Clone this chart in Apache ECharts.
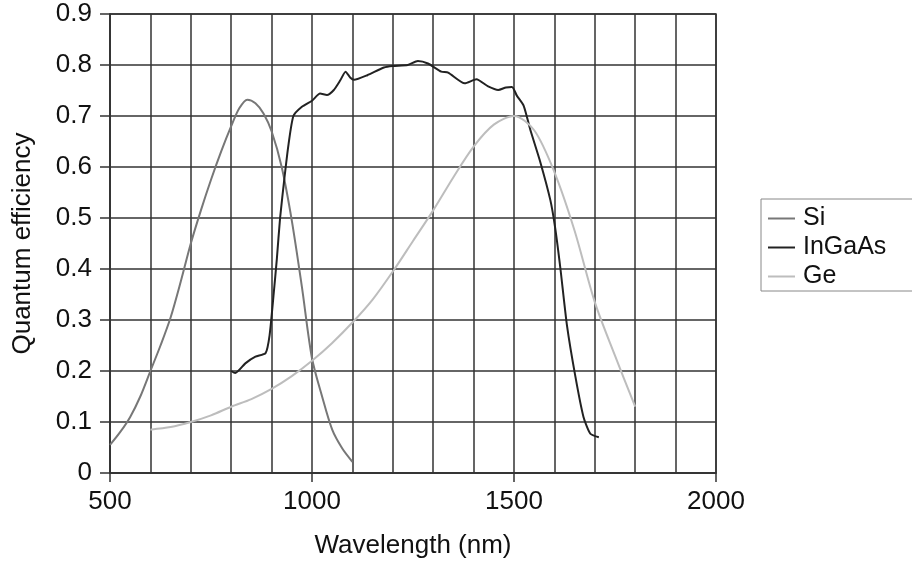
<!DOCTYPE html>
<html>
<head>
<meta charset="utf-8">
<script src="https://cdn.jsdelivr.net/npm/echarts@6/dist/echarts.min.js"></script>
<style>
  html, body { margin: 0; padding: 0; background: #fff; }
  #main { width: 912px; height: 566px; }
</style>
</head>
<body>
<div id="main"></div>
<script>
// wavelengths (nm) and quantum efficiency
const siWl = [500, 525, 550, 575, 600, 625, 650, 675, 700, 725, 750, 775, 800, 820, 840, 860, 880, 900, 925, 950, 975, 1000, 1025, 1050, 1075, 1100];
const siQe = [0.055, 0.08, 0.11, 0.15, 0.2, 0.25, 0.305, 0.375, 0.45, 0.515, 0.575, 0.63, 0.68, 0.715, 0.732, 0.725, 0.705, 0.67, 0.6, 0.495, 0.365, 0.225, 0.15, 0.085, 0.048, 0.022];

const ingaasWl = [800, 810, 835, 860, 885, 895, 905, 913, 921, 932, 942, 954, 975, 1000, 1020, 1037, 1054, 1070, 1083, 1095, 1104, 1137, 1178, 1200, 1237, 1262, 1287, 1320, 1337, 1378, 1407, 1436, 1461, 1480, 1495, 1507, 1524, 1540, 1565, 1590, 1602, 1615, 1631, 1652, 1672, 1689, 1710];
const ingaasQe = [0.2, 0.196, 0.215, 0.228, 0.235, 0.27, 0.35, 0.42, 0.5, 0.58, 0.645, 0.7, 0.718, 0.73, 0.744, 0.741, 0.751, 0.77, 0.787, 0.775, 0.771, 0.78, 0.795, 0.798, 0.8, 0.808, 0.803, 0.787, 0.785, 0.764, 0.772, 0.758, 0.751, 0.756, 0.757, 0.74, 0.72, 0.674, 0.61, 0.535, 0.48, 0.4, 0.29, 0.189, 0.11, 0.077, 0.07];

const geWl = [600, 650, 700, 750, 800, 850, 900, 950, 1000, 1050, 1100, 1150, 1200, 1250, 1300, 1350, 1400, 1450, 1500, 1550, 1600, 1650, 1700, 1750, 1800];
const geQe = [0.085, 0.09, 0.1, 0.113, 0.13, 0.145, 0.165, 0.19, 0.22, 0.255, 0.295, 0.34, 0.395, 0.455, 0.515, 0.58, 0.64, 0.683, 0.7, 0.672, 0.59, 0.475, 0.335, 0.23, 0.13];

const seriesNames = ['Si', 'InGaAs', 'Ge'];

const pairs = (xs, ys) => xs.map((x, i) => [x, ys[i]]);

const chart = echarts.init(document.getElementById('main'));

const font = '"Liberation Sans", Arial, sans-serif';
const gridColor = '#333';

const option = {
  animation: false,
  backgroundColor: '#fff',
  textStyle: { fontFamily: font },
  grid: {
    left: 110, right: 196, top: 14, bottom: 93,
    show: true, borderColor: gridColor, borderWidth: 1.5
  },
  legend: {
    data: seriesNames,
    orient: 'vertical',
    left: 761, top: 199,
    padding: [7, 40, 2, 7],
    itemGap: 4,
    icon: 'rect',
    itemWidth: 27, itemHeight: 2,
    borderColor: '#888', borderWidth: 1,
    textStyle: { fontSize: 25, color: '#111', fontFamily: font, padding: [0, 0, 0, 3] }
  },
  xAxis: {
    type: 'value',
    min: 500, max: 2000, interval: 500,
    name: 'Wavelength (nm)',
    nameLocation: 'middle',
    nameGap: 60,
    nameTextStyle: { fontSize: 26, color: '#111' },
    axisLine: { lineStyle: { color: gridColor, width: 1.5 } },
    axisTick: { show: true, length: 9, lineStyle: { color: gridColor, width: 1.5 } },
    axisLabel: { fontSize: 26, color: '#111', margin: 16, formatter: v => String(v) },
    splitLine: { show: true, lineStyle: { color: gridColor, width: 1.5 } },
    minorTick: { show: false, splitNumber: 5 },
    minorSplitLine: { show: true, lineStyle: { color: gridColor, width: 1.5 } }
  },
  yAxis: {
    type: 'value',
    min: 0, max: 0.9, interval: 0.1,
    name: 'Quantum efficiency',
    nameLocation: 'middle',
    nameGap: 74,
    nameTextStyle: { fontSize: 26, color: '#111' },
    axisLine: { show: true, lineStyle: { color: gridColor, width: 1.5 } },
    axisTick: { show: true, length: 10, lineStyle: { color: gridColor, width: 1.5 } },
    axisLabel: { fontSize: 26, color: '#111', margin: 18 },
    splitLine: { show: true, lineStyle: { color: gridColor, width: 1.5 } }
  },
  series: [
    {
      name: 'Si', type: 'line', data: pairs(siWl, siQe),
      symbol: 'none', smooth: 0.3,
      lineStyle: { color: '#777', width: 2 }, itemStyle: { color: '#777' }
    },
    {
      name: 'InGaAs', type: 'line', data: pairs(ingaasWl, ingaasQe),
      symbol: 'none', smooth: 0.2,
      lineStyle: { color: '#222', width: 2 }, itemStyle: { color: '#222' }
    },
    {
      name: 'Ge', type: 'line', data: pairs(geWl, geQe),
      symbol: 'none', smooth: 0.3,
      lineStyle: { color: '#bdbdbd', width: 2 }, itemStyle: { color: '#bdbdbd' }
    }
  ]
};

chart.setOption(option);
</script>
</body>
</html>
